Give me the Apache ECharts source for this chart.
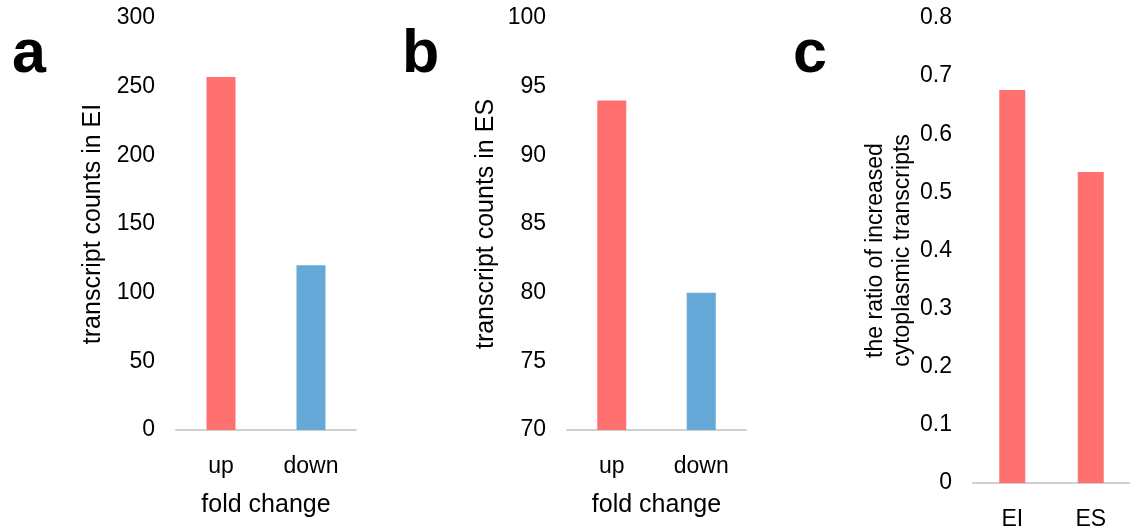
<!DOCTYPE html>
<html>
<head>
<meta charset="utf-8">
<script src="https://cdn.jsdelivr.net/npm/echarts@6/dist/echarts.min.js"></script>
<style>
html,body{margin:0;padding:0;background:#fff;}
#chart{width:1130px;height:531px;}
</style>
</head>
<body>
<div id="chart"></div>
<script>
// ---- data ----
const foldCategories = ['up', 'down'];
const countsEI = [257, 120];
const countsES = [94, 80];
const ratioCategories = ['EI', 'ES'];
const ratios = [0.676, 0.535];
const panelLetters = ['a', 'b', 'c'];
const yNames = ['transcript counts in EI', 'transcript counts in ES', 'the ratio of increased\ncytoplasmic transcripts'];
const xName = 'fold change';

const RED = '#FF7171';
const BLUE = '#66A8D8';
const FONT = '"Liberation Sans", Arial, sans-serif';
const TXT = '#000';

const chart = echarts.init(document.getElementById('chart'), null, {renderer: 'canvas'});

function xAxisCfg(gridIndex, cats, name) {
  return {
    type: 'category', gridIndex, data: cats,
    axisLine: {show: true, lineStyle: {color: '#d0d0d0', width: 2}},
    axisTick: {show: false},
    axisLabel: {color: TXT, fontSize: 23, fontFamily: FONT, margin: 25},
    name: name || '', nameLocation: 'middle', nameGap: 63,
    nameTextStyle: {color: TXT, fontSize: 25, fontFamily: FONT}
  };
}
function yAxisCfg(gridIndex, min, max, interval, name, gap, fs, lh) {
  return {
    type: 'value', gridIndex, min, max, interval,
    axisLine: {show: false}, axisTick: {show: false},
    splitLine: {show: false},
    axisLabel: {color: TXT, fontSize: 23, fontFamily: FONT, margin: 21},
    name, nameLocation: 'middle', nameRotate: 90, nameGap: gap,
    nameTextStyle: {color: TXT, fontSize: fs, fontFamily: FONT, lineHeight: lh || fs + 2}
  };
}

const option = {
  animation: false,
  backgroundColor: '#fff',
  graphic: panelLetters.map((t, i) => ({
    type: 'text',
    x: [12, 402, 793][i], y: 55,
    style: {text: t, font: 'bold 61px ' + FONT, fill: '#000', verticalAlign: 'middle'}
  })),
  grid: [
    {left: 176, top: 18, width: 180, height: 412},
    {left: 567, top: 18, width: 179, height: 412},
    {left: 973, top: 18, width: 163, height: 465}
  ],
  xAxis: [
    xAxisCfg(0, foldCategories, xName),
    xAxisCfg(1, foldCategories, xName),
    xAxisCfg(2, ratioCategories, '')
  ],
  yAxis: [
    yAxisCfg(0, 0, 300, 50, yNames[0], 69, 25),
    yAxisCfg(1, 70, 100, 5, yNames[1], 67, 25),
    yAxisCfg(2, 0, 0.8, 0.1, yNames[2], 54, 23, 27)
  ],
  series: [
    {type: 'bar', xAxisIndex: 0, yAxisIndex: 0, barWidth: 29,
     data: countsEI.map((v, i) => ({value: v, itemStyle: {color: i === 0 ? RED : BLUE}}))},
    {type: 'bar', xAxisIndex: 1, yAxisIndex: 1, barWidth: 29,
     data: countsES.map((v, i) => ({value: v, itemStyle: {color: i === 0 ? RED : BLUE}}))},
    {type: 'bar', xAxisIndex: 2, yAxisIndex: 2, barWidth: 26,
     itemStyle: {color: RED}, data: ratios}
  ]
};
chart.setOption(option);
</script>
</body>
</html>
